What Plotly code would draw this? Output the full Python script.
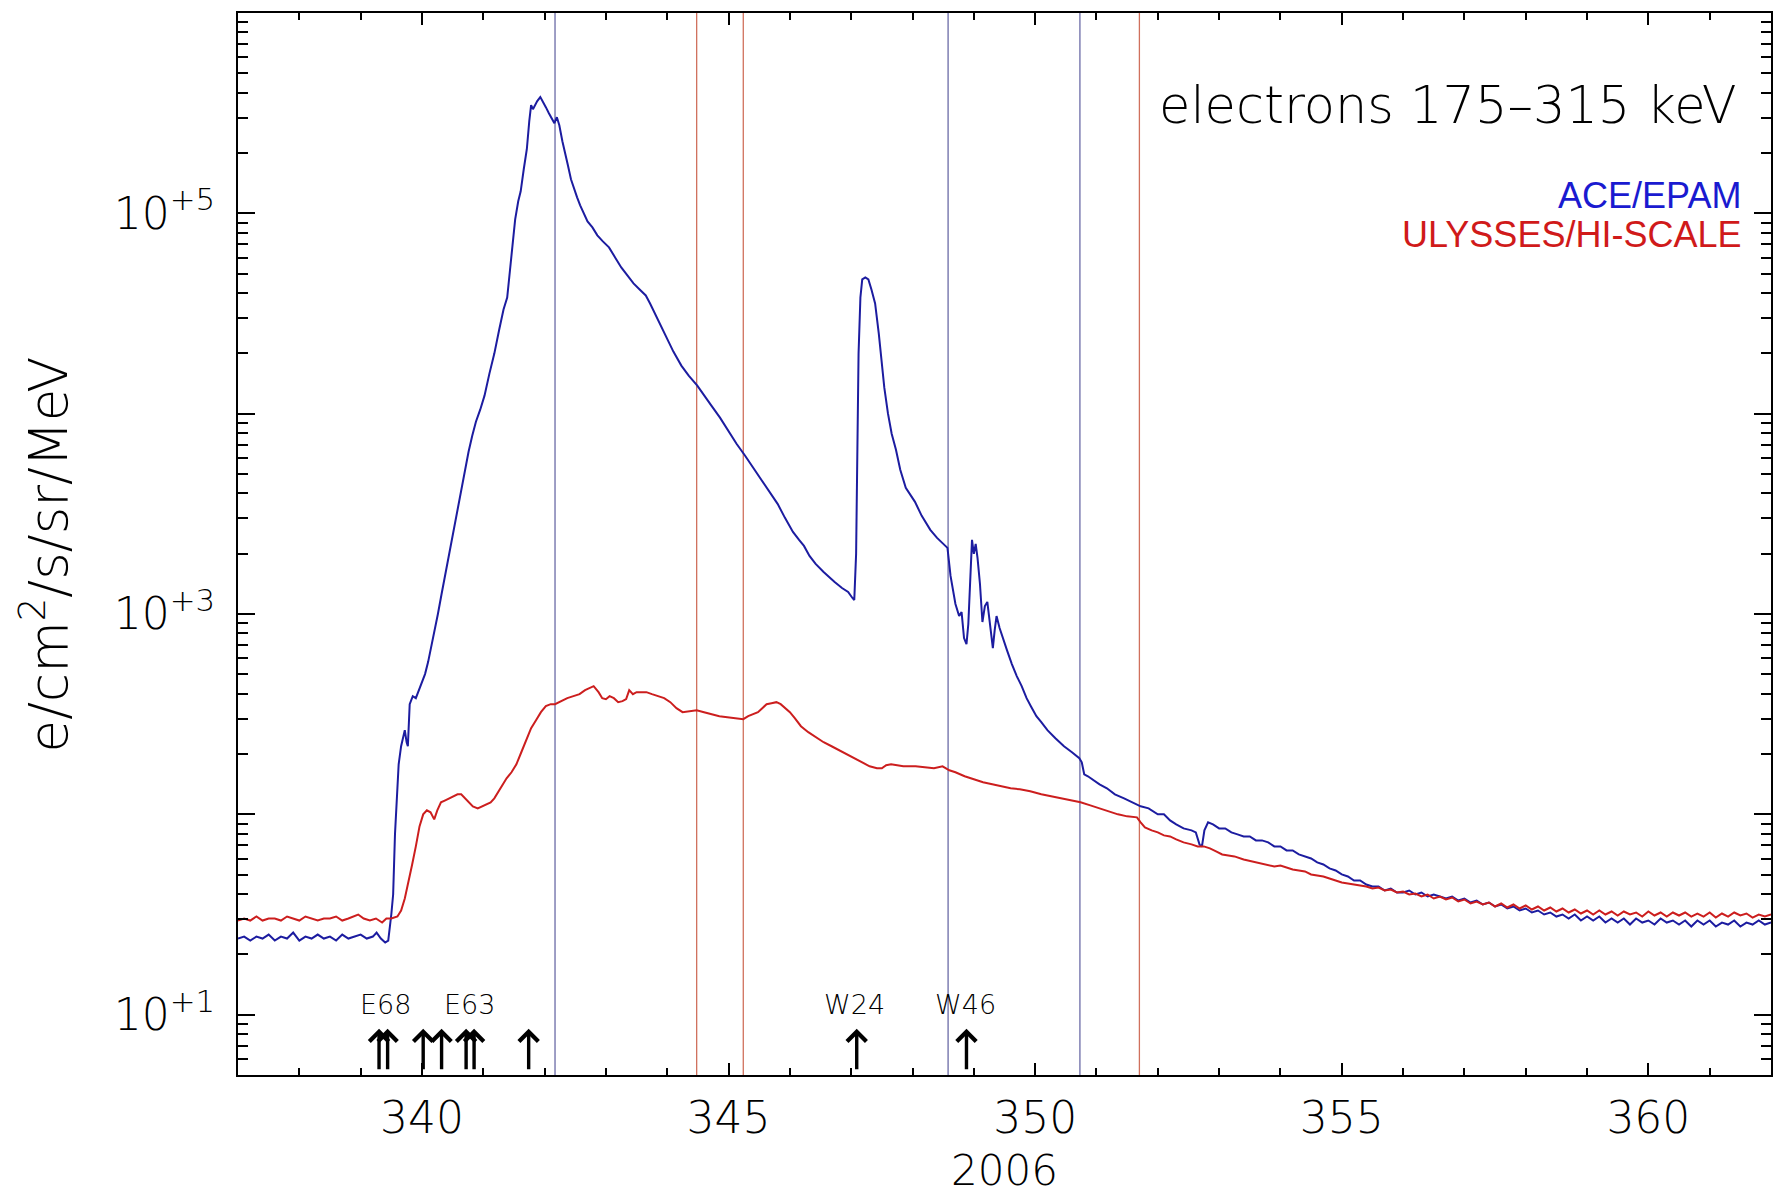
import plotly.graph_objects as go

# ---------------- data ----------------
# day of year 2006, log10 of electron intensity (e/cm2/s/sr/MeV)
ace_day = [
    337.00, 337.10, 337.20, 337.30, 337.40, 337.50, 337.60, 337.70, 337.80, 337.90,
    338.00, 338.10, 338.20, 338.30, 338.40, 338.50, 338.60, 338.70, 338.80, 338.90,
    339.00, 339.10, 339.20, 339.26, 339.33, 339.40, 339.45, 339.50, 339.53, 339.56,
    339.59, 339.62, 339.66, 339.70, 339.72, 339.75, 339.77, 339.80, 339.85, 339.90,
    339.95, 340.00, 340.05, 340.10, 340.15, 340.20, 340.26, 340.32, 340.40, 340.48,
    340.55, 340.62, 340.70, 340.76, 340.82, 340.88, 340.95, 341.02, 341.10, 341.18,
    341.26, 341.33, 341.39, 341.44, 341.48, 341.52, 341.57, 341.61, 341.66, 341.71,
    341.75, 341.78, 341.81, 341.84, 341.88, 341.93, 341.97, 342.02, 342.07, 342.12,
    342.16, 342.20, 342.24, 342.29, 342.33, 342.38, 342.43, 342.48, 342.53, 342.58,
    342.64, 342.70, 342.78, 342.86, 342.95, 343.05, 343.15, 343.25, 343.35, 343.45,
    343.55, 343.65, 343.72, 343.80, 343.90, 344.00, 344.10, 344.23, 344.35, 344.49,
    344.60, 344.72, 344.86, 345.00, 345.13, 345.27, 345.40, 345.53, 345.67, 345.80,
    345.92, 346.05, 346.15, 346.23, 346.32, 346.42, 346.55, 346.65, 346.73, 346.85,
    346.95, 347.02, 347.05, 347.08, 347.10, 347.12, 347.15, 347.18, 347.23, 347.28,
    347.33, 347.39, 347.45, 347.50, 347.54, 347.60, 347.66, 347.73, 347.80, 347.89,
    347.95, 348.04, 348.15, 348.29, 348.40, 348.50, 348.57, 348.62, 348.70, 348.76,
    348.80, 348.84, 348.88, 348.91, 348.94, 348.97, 349.00, 349.03, 349.06, 349.10,
    349.14, 349.18, 349.22, 349.26, 349.31, 349.34, 349.37, 349.42, 349.48, 349.54,
    349.62, 349.70, 349.78, 349.86, 349.93, 350.02, 350.10, 350.20, 350.33, 350.47,
    350.60, 350.72, 350.76, 350.80, 350.86, 350.95, 351.05, 351.17, 351.30, 351.45,
    351.60, 351.72, 351.85, 352.00, 352.10, 352.20, 352.30, 352.42, 352.55, 352.62,
    352.68, 352.72, 352.76, 352.82, 352.90, 353.00, 353.10, 353.20, 353.30, 353.40,
    353.50, 353.60, 353.70, 353.80, 353.90, 354.00, 354.10, 354.20, 354.30, 354.40,
    354.50, 354.60, 354.70, 354.80, 354.90, 355.00, 355.10, 355.20, 355.30, 355.40,
    355.50, 355.60, 355.70, 355.80, 355.90, 356.00, 356.10, 356.20, 356.30, 356.40,
    356.50, 356.60, 356.70, 356.80, 356.90, 357.00, 357.10, 357.20, 357.30, 357.40,
    357.50, 357.60, 357.70, 357.80, 357.90, 358.00, 358.10, 358.20, 358.30, 358.40,
    358.50, 358.60, 358.70, 358.80, 358.90, 359.00, 359.10, 359.20, 359.30, 359.40,
    359.50, 359.60, 359.70, 359.80, 359.90, 360.00, 360.10, 360.20, 360.30, 360.40,
    360.50, 360.60, 360.70, 360.80, 360.90, 361.00, 361.10, 361.20, 361.30, 361.40,
    361.50, 361.60, 361.70, 361.80, 361.90, 362.00,
]
ace_log10_flux = [
    1.38, 1.39, 1.37, 1.39, 1.38, 1.40, 1.37, 1.39, 1.38, 1.41,
    1.37, 1.39, 1.38, 1.40, 1.38, 1.39, 1.37, 1.40, 1.38, 1.39,
    1.40, 1.38, 1.39, 1.41, 1.38, 1.36, 1.37, 1.50, 1.60, 1.90,
    2.10, 2.25, 2.34, 2.40, 2.42, 2.36, 2.34, 2.55, 2.59, 2.58,
    2.62, 2.66, 2.70, 2.76, 2.83, 2.91, 3.00, 3.10, 3.23, 3.35,
    3.46, 3.57, 3.70, 3.81, 3.89, 3.96, 4.02, 4.09, 4.20, 4.30,
    4.42, 4.52, 4.58, 4.72, 4.86, 4.97, 5.06, 5.11, 5.22, 5.32,
    5.46, 5.54, 5.52, 5.54, 5.56, 5.58, 5.56, 5.53, 5.50, 5.47,
    5.45, 5.48, 5.44, 5.36, 5.30, 5.24, 5.17, 5.12, 5.08, 5.04,
    5.00, 4.96, 4.93, 4.89, 4.86, 4.83, 4.78, 4.73, 4.69, 4.65,
    4.62, 4.59, 4.55, 4.50, 4.43, 4.37, 4.31, 4.24, 4.19, 4.14,
    4.09, 4.04, 3.98, 3.91, 3.85, 3.79, 3.73, 3.67, 3.61, 3.55,
    3.48, 3.41, 3.37, 3.34, 3.29, 3.25, 3.21, 3.18, 3.16, 3.13,
    3.11, 3.08, 3.07, 3.30, 3.90, 4.30, 4.58, 4.67, 4.68, 4.67,
    4.62, 4.55, 4.40, 4.25, 4.13, 4.00, 3.90, 3.82, 3.72, 3.63,
    3.60, 3.56, 3.49, 3.42, 3.38, 3.35, 3.33, 3.19, 3.05, 2.99,
    3.01, 2.88, 2.85, 2.95, 3.20, 3.37, 3.30, 3.35, 3.28, 3.15,
    2.96, 3.04, 3.06, 2.95, 2.83, 2.92, 2.99, 2.93, 2.87, 2.82,
    2.75, 2.69, 2.64, 2.58, 2.54, 2.49, 2.46, 2.42, 2.38, 2.34,
    2.31, 2.28, 2.26, 2.20, 2.19, 2.17, 2.15, 2.13, 2.10, 2.08,
    2.06, 2.04, 2.03, 2.00, 2.00, 1.97, 1.95, 1.93, 1.92, 1.91,
    1.85, 1.84, 1.92, 1.96, 1.95, 1.93, 1.93, 1.91, 1.90, 1.89,
    1.89, 1.87, 1.87, 1.86, 1.84, 1.84, 1.82, 1.82, 1.80, 1.79,
    1.78, 1.76, 1.75, 1.73, 1.72, 1.70, 1.69, 1.67, 1.67, 1.65,
    1.64, 1.64, 1.62, 1.63, 1.61, 1.61, 1.62, 1.60, 1.61, 1.59,
    1.60, 1.59, 1.58, 1.59, 1.57, 1.58, 1.56, 1.57, 1.55, 1.56,
    1.54, 1.55, 1.53, 1.54, 1.52, 1.53, 1.51, 1.52, 1.50, 1.51,
    1.49, 1.50, 1.48, 1.50, 1.47, 1.49, 1.47, 1.49, 1.46, 1.48,
    1.46, 1.48, 1.45, 1.48, 1.46, 1.47, 1.45, 1.48, 1.46, 1.47,
    1.45, 1.47, 1.44, 1.47, 1.45, 1.47, 1.44, 1.46, 1.45, 1.47,
    1.44, 1.46, 1.45, 1.47, 1.45, 1.46,
]

uly_day = [
    337.00, 337.10, 337.20, 337.30, 337.40, 337.50, 337.60, 337.70, 337.80, 337.90,
    338.00, 338.10, 338.20, 338.30, 338.40, 338.50, 338.60, 338.70, 338.80, 338.96,
    339.05, 339.15, 339.25, 339.35, 339.42, 339.50, 339.60, 339.66, 339.72, 339.78,
    339.84, 339.90, 339.96, 340.02, 340.08, 340.14, 340.20, 340.25, 340.31, 340.38,
    340.45, 340.52, 340.58, 340.64, 340.70, 340.76, 340.83, 340.91, 340.98, 341.05,
    341.12, 341.18, 341.24, 341.30, 341.38, 341.46, 341.54, 341.62, 341.70, 341.78,
    341.86, 341.94, 342.02, 342.10, 342.17, 342.27, 342.37, 342.47, 342.57, 342.66,
    342.74, 342.80, 342.88, 342.94, 343.00, 343.06, 343.13, 343.20, 343.27, 343.33,
    343.38, 343.44, 343.50, 343.58, 343.66, 343.75, 343.85, 343.95, 344.05, 344.15,
    344.25, 344.35, 344.48, 344.60, 344.72, 344.85, 344.98, 345.10, 345.24, 345.32,
    345.40, 345.48, 345.55, 345.62, 345.70, 345.78, 345.85, 345.93, 346.00, 346.08,
    346.18, 346.30, 346.42, 346.55, 346.68, 346.80, 346.92, 347.05, 347.18, 347.30,
    347.42, 347.50, 347.57, 347.65, 347.75, 347.85, 347.95, 348.05, 348.20, 348.35,
    348.49, 348.60, 348.70, 348.85, 349.00, 349.15, 349.30, 349.45, 349.60, 349.75,
    349.92, 350.10, 350.25, 350.40, 350.55, 350.74, 350.90, 351.05, 351.20, 351.35,
    351.50, 351.66, 351.72, 351.79, 351.90, 352.00, 352.10, 352.20, 352.30, 352.42,
    352.55, 352.65, 352.75, 352.85, 352.95, 353.05, 353.15, 353.25, 353.40, 353.55,
    353.70, 353.80, 353.90, 354.00, 354.10, 354.20, 354.30, 354.40, 354.50, 354.60,
    354.70, 354.80, 354.90, 355.00, 355.10, 355.20, 355.30, 355.40, 355.50, 355.60,
    355.70, 355.80, 355.90, 356.00, 356.10, 356.20, 356.30, 356.40, 356.50, 356.60,
    356.70, 356.80, 356.90, 357.00, 357.10, 357.20, 357.30, 357.40, 357.50, 357.60,
    357.70, 357.80, 357.90, 358.00, 358.10, 358.20, 358.30, 358.40, 358.50, 358.60,
    358.70, 358.80, 358.90, 359.00, 359.10, 359.20, 359.30, 359.40, 359.50, 359.60,
    359.70, 359.80, 359.90, 360.00, 360.10, 360.20, 360.30, 360.40, 360.50, 360.60,
    360.70, 360.80, 360.90, 361.00, 361.10, 361.20, 361.30, 361.40, 361.50, 361.60,
    361.70, 361.80, 361.90, 362.00,
]
uly_log10_flux = [
    1.47, 1.48, 1.47, 1.49, 1.47, 1.48, 1.48, 1.47, 1.49, 1.48,
    1.47, 1.49, 1.48, 1.47, 1.48, 1.48, 1.49, 1.47, 1.48, 1.50,
    1.48, 1.47, 1.48, 1.46, 1.48, 1.48, 1.49, 1.52, 1.58, 1.66,
    1.75, 1.84, 1.94, 2.00, 2.02, 2.01, 1.975, 2.02, 2.06, 2.07,
    2.08, 2.09, 2.10, 2.10, 2.08, 2.06, 2.04, 2.03, 2.04, 2.05,
    2.06, 2.08, 2.11, 2.14, 2.18, 2.21, 2.25, 2.31, 2.37, 2.43,
    2.47, 2.51, 2.54, 2.55, 2.55, 2.565, 2.58, 2.59, 2.60, 2.62,
    2.63, 2.64, 2.61, 2.58, 2.575, 2.59, 2.58, 2.56, 2.565, 2.575,
    2.62, 2.60, 2.61, 2.61, 2.61, 2.60, 2.59, 2.58, 2.56, 2.53,
    2.51, 2.515, 2.52, 2.51, 2.50, 2.49, 2.485, 2.48, 2.475, 2.49,
    2.50, 2.51, 2.53, 2.55, 2.555, 2.56, 2.55, 2.53, 2.51, 2.48,
    2.44, 2.41, 2.385, 2.36, 2.34, 2.32, 2.30, 2.28, 2.26, 2.24,
    2.23, 2.23, 2.245, 2.25, 2.245, 2.24, 2.24, 2.24, 2.235, 2.23,
    2.24, 2.22, 2.21, 2.19, 2.175, 2.16, 2.15, 2.14, 2.13, 2.125,
    2.115, 2.10, 2.09, 2.08, 2.07, 2.06, 2.045, 2.03, 2.015, 2.00,
    1.99, 1.985, 1.96, 1.935, 1.92, 1.91, 1.895, 1.89, 1.875, 1.86,
    1.85, 1.84, 1.84, 1.83, 1.815, 1.80, 1.795, 1.79, 1.775, 1.765,
    1.755, 1.75, 1.74, 1.745, 1.735, 1.725, 1.72, 1.715, 1.70, 1.695,
    1.69, 1.68, 1.67, 1.66, 1.655, 1.65, 1.645, 1.64, 1.63, 1.635,
    1.62, 1.625, 1.61, 1.615, 1.60, 1.605, 1.59, 1.60, 1.58, 1.59,
    1.575, 1.585, 1.565, 1.575, 1.555, 1.565, 1.55, 1.56, 1.54, 1.555,
    1.535, 1.55, 1.53, 1.545, 1.525, 1.54, 1.52, 1.535, 1.515, 1.53,
    1.51, 1.525, 1.505, 1.52, 1.50, 1.52, 1.50, 1.515, 1.495, 1.515,
    1.50, 1.51, 1.49, 1.515, 1.495, 1.51, 1.49, 1.51, 1.495, 1.51,
    1.49, 1.505, 1.49, 1.51, 1.485, 1.505, 1.49, 1.51, 1.495, 1.505,
    1.485, 1.50, 1.49, 1.50,
]

# vertical marker lines (day of year)
ace_lines = [342.17, 348.58, 350.73]
uly_lines = [344.48, 345.24, 351.70]

# flare arrows and their labels
flare_days = [339.30, 339.44, 340.02, 340.32, 340.72, 340.85, 341.74, 347.09, 348.88]
flare_label_days = [339.40, 340.77, 347.06, 348.86]
flare_labels = ["E68", "E63", "W24", "W46"]

# axis tick labels
y_tickvals = [1e1, 1e2, 1e3, 1e4, 1e5, 1e6]
y_ticktext = ["10<sup>+1</sup>", "", "10<sup>+3</sup>", "", "10<sup>+5</sup>", ""]
x_tickvals = [340, 345, 350, 355, 360]
x_ticktext = ["340", "345", "350", "355", "360"]

# ---------------- figure ----------------
ace_flux = [10 ** v for v in ace_log10_flux]
uly_flux = [10 ** v for v in uly_log10_flux]

FONT = "DejaVu Sans"
BLUE = "#1c1ca0"
RED = "#cc1e1e"

fig = go.Figure()
fig.add_trace(go.Scatter(x=ace_day, y=ace_flux, mode="lines",
                         line=dict(color=BLUE, width=2), name="ACE/EPAM"))
fig.add_trace(go.Scatter(x=uly_day, y=uly_flux, mode="lines",
                         line=dict(color=RED, width=2), name="ULYSSES/HI-SCALE"))

for d in ace_lines:
    fig.add_shape(type="line", x0=d, x1=d, xref="x", yref="paper", y0=0, y1=1,
                  line=dict(color="#6a6aa6", width=1.3), layer="below")
for d in uly_lines:
    fig.add_shape(type="line", x0=d, x1=d, xref="x", yref="paper", y0=0, y1=1,
                  line=dict(color="#d0705c", width=1.3), layer="below")

# flare arrows (log axis -> annotation y given in log10 units)
for d in flare_days:
    fig.add_annotation(x=d, y=0.93, xref="x", yref="y", text="",
                       showarrow=True, arrowhead=4, arrowsize=1.1, arrowwidth=3.4,
                       arrowcolor="black", ax=0, ay=42, axref="pixel", ayref="pixel")
for d, t in zip(flare_label_days, flare_labels):
    fig.add_annotation(x=d, y=1.05, xref="x", yref="y", text=t, showarrow=False,
                       font=dict(family=FONT, size=27, color="black", weight=200),
                       xanchor="center", yanchor="middle")

fig.add_annotation(x=0.979, y=0.913, xref="paper", yref="paper",
                   text="electrons 175\u2013315 keV", showarrow=False,
                   xanchor="right", yanchor="middle",
                   font=dict(family=FONT, size=51, color="black", weight=200))
fig.add_annotation(x=0.982, y=0.8285, xref="paper", yref="paper",
                   text="ACE/EPAM", showarrow=False, xanchor="right", yanchor="middle",
                   font=dict(family="Liberation Sans", size=36, color="#1a1ad0"))
fig.add_annotation(x=0.982, y=0.7915, xref="paper", yref="paper",
                   text="ULYSSES/HI-SCALE", showarrow=False, xanchor="right", yanchor="middle",
                   font=dict(family="Liberation Sans", size=36, color="#d01a1a"))

# axis titles as annotations
fig.add_annotation(x=-0.126, y=0.49, xref="paper", yref="paper",
                   text="e/cm<sup>2</sup>/s/sr/MeV", showarrow=False, textangle=-90,
                   xanchor="center", yanchor="middle",
                   font=dict(family=FONT, size=53, color="black", weight=200))
fig.add_annotation(x=0.5, y=-0.09, xref="paper", yref="paper",
                   text="2006", showarrow=False, xanchor="center", yanchor="middle",
                   font=dict(family=FONT, size=42, color="black", weight=200))

minor_y = [m * 10 ** e for e in range(0, 6) for m in range(2, 10) if m * 10 ** e >= 5]

fig.update_xaxes(
    range=[337, 362], tickmode="array", tickvals=x_tickvals, ticktext=x_ticktext,
    ticks="inside", ticklen=12, tickwidth=2, tickcolor="black",
    showline=True, linecolor="black", linewidth=2, mirror="ticks",
    showgrid=False, zeroline=False, ticklabelstandoff=3,
    tickfont=dict(family=FONT, size=44, color="black", weight=200),
    minor=dict(tickmode="linear", tick0=0, dtick=1, ticks="inside", ticklen=7,
               tickwidth=1.6, tickcolor="black", showgrid=False),
)
fig.update_yaxes(
    type="log", range=[0.69897, 6.0], tickmode="array", tickvals=y_tickvals,
    ticktext=y_ticktext, ticks="inside", ticklen=17, tickwidth=2, tickcolor="black",
    showline=True, linecolor="black", linewidth=2, mirror="ticks",
    showgrid=False, zeroline=False, ticklabelstandoff=12,
    tickfont=dict(family=FONT, size=44, color="black", weight=200),
    minor=dict(tickmode="array", tickvals=minor_y, ticks="inside", ticklen=10,
               tickwidth=1.6, tickcolor="black", showgrid=False),
)

fig.update_layout(
    width=1774, height=1199, autosize=False,
    margin=dict(l=238, r=1, t=13, b=124),
    paper_bgcolor="white", plot_bgcolor="white",
    showlegend=False,
    font=dict(family=FONT, color="black"),
)

fig.write_html("out.html", config={"displayModeBar": False},
               post_script="document.body.style.margin='0px';"
                           "document.body.style.overflow='hidden';")
